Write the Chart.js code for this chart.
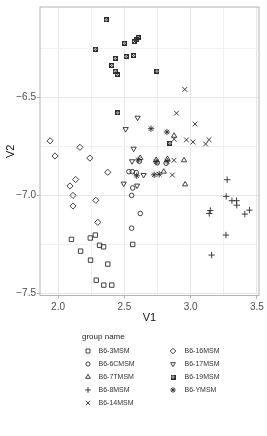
<!DOCTYPE html>
<html lang="en">
<head>
<meta charset="UTF-8">
<title>V1 vs V2</title>
<script src="https://cdn.jsdelivr.net/npm/chart.js"></script>
<style>
    body { margin: 0; background: #fff; }
    canvas { display: block; }
</style>
</head>
<body>
<canvas id="chart" width="267" height="436"></canvas>
<script>
// group names, in legend order
const groups = ["B6-3MSM", "B6-6CMSM", "B6-7TMSM", "B6-8MSM", "B6-14MSM",
                "B6-16MSM", "B6-17MSM", "B6-19MSM", "B6-YMSM"];

// V1 / V2 values per group
const x3MSM = [2.101, 2.243, 2.281, 2.313, 2.343, 2.170, 2.245, 2.375, 2.288, 2.345, 2.405, 2.563];
const y3MSM = [-7.224, -7.217, -7.202, -7.254, -7.262, -7.284, -7.330, -7.350, -7.432, -7.457, -7.457, -7.250];

const x6CMSM = [2.534, 2.560, 2.590, 2.563, 2.555, 2.620, 2.555, 2.613, 2.748, 2.815];
const y6CMSM = [-6.879, -6.879, -6.884, -6.962, -7.000, -7.092, -7.167, -6.826, -6.834, -6.836];

const x7TMSM = [2.875, 2.825, 2.950, 2.797, 2.958, 2.620, 2.740];
const y7TMSM = [-6.696, -6.814, -6.821, -6.879, -6.944, -6.809, -6.819];

const x8MSM = [3.275, 3.268, 3.311, 3.346, 3.348, 3.443, 3.408, 3.148, 3.140, 3.266, 3.158];
const y8MSM = [-6.920, -7.005, -7.027, -7.027, -7.050, -7.075, -7.095, -7.077, -7.092, -7.202, -7.304];

const x14MSM = [2.956, 2.893, 3.033, 2.875, 2.968, 3.017, 3.113, 3.138, 2.874, 2.862];
const y14MSM = [-6.460, -6.581, -6.636, -6.714, -6.717, -6.728, -6.738, -6.716, -6.821, -6.896];

const x16MSM = [1.940, 1.977, 2.165, 2.240, 2.375, 2.133, 2.090, 2.113, 2.113, 2.285, 2.300];
const y16MSM = [-6.722, -6.799, -6.755, -6.810, -6.882, -6.919, -6.952, -7.000, -7.054, -7.025, -7.137];

const x17MSM = [2.600, 2.510, 2.570, 2.558, 2.645, 2.495, 2.596];
const y17MSM = [-6.604, -6.662, -6.762, -6.826, -6.896, -6.940, -6.950];

const x19MSM = [2.363, 2.500, 2.575, 2.588, 2.603, 2.281, 2.431, 2.513, 2.570, 2.405, 2.431, 2.446, 2.746, 2.450, 2.843];
const y19MSM = [-6.105, -6.225, -6.215, -6.208, -6.195, -6.255, -6.302, -6.292, -6.287, -6.338, -6.367, -6.383, -6.367, -6.579, -6.734];

const xYMSM = [2.701, 2.821, 2.605, 2.740, 2.823, 2.593, 2.725, 2.763];
const yYMSM = [-6.660, -6.677, -6.819, -6.829, -6.826, -6.900, -6.895, -6.892];

// axis breaks
const xBreaks = [2.0, 2.5, 3.0, 3.5];
const xMinor = [2.25, 2.75, 3.25];
const yBreaks = [-7.5, -7.0, -6.5];
const yMinor = [-7.25, -6.75, -6.25];

const ink = "#2b2b2b";

// square with a cross inside (ggplot shape 7)
function crossedSquare() {
    const c = document.createElement("canvas");
    c.width = 5; c.height = 5;
    const g = c.getContext("2d");
    g.strokeStyle = ink;
    g.lineWidth = 1;
    g.strokeRect(0.5, 0.5, 4, 4);
    g.beginPath();
    g.moveTo(0.5, 0.5); g.lineTo(4.5, 4.5);
    g.moveTo(4.5, 0.5); g.lineTo(0.5, 4.5);
    g.stroke();
    return c;
}

const shapes = [
    { pointStyle: "rect", radius: 3.1 },
    { pointStyle: "circle", radius: 2.3 },
    { pointStyle: "triangle", radius: 3 },
    { pointStyle: "cross", radius: 3.2 },
    { pointStyle: "crossRot", radius: 3.4 },
    { pointStyle: "rectRot", radius: 3.1 },
    { pointStyle: "triangle", radius: 3, rotation: 180 },
    { pointStyle: crossedSquare(), radius: 3 },
    { pointStyle: "star", radius: 3.2 }
];

const xs = [x3MSM, x6CMSM, x7TMSM, x8MSM, x14MSM, x16MSM, x17MSM, x19MSM, xYMSM];
const ys = [y3MSM, y6CMSM, y7TMSM, y8MSM, y14MSM, y16MSM, y17MSM, y19MSM, yYMSM];

const datasets = groups.map((name, i) => ({
    label: name,
    data: xs[i].map((v, j) => ({ x: v, y: ys[i][j] })),
    pointStyle: shapes[i].pointStyle,
    pointRadius: shapes[i].radius,
    pointRotation: shapes[i].rotation || 0,
    pointBorderColor: ink,
    pointBackgroundColor: "rgba(0,0,0,0)",
    pointBorderWidth: 0.9,
    showLine: false
}));

function setTicks(major, minor) {
    return scale => {
        scale.ticks = major.concat(minor).sort((a, b) => a - b).map(v => ({ value: v }));
    };
}

const panelBorder = {
    id: "panelBorder",
    afterDraw(chart) {
        const { ctx, chartArea: a } = chart;
        ctx.save();
        ctx.strokeStyle = "#b3b3b3";
        ctx.lineWidth = 1;
        ctx.strokeRect(a.left, a.top, a.right - a.left, a.bottom - a.top);
        ctx.restore();
    }
};

// legend laid out in two columns, filled column by column
const groupLegend = {
    id: "groupLegend",
    afterDraw(chart) {
        const ctx = chart.ctx;
        ctx.save();
        ctx.fillStyle = "#222";
        ctx.font = "8px 'Liberation Sans', Arial, sans-serif";
        ctx.textBaseline = "middle";
        ctx.textAlign = "left";
        ctx.fillText("group name", 82, 337);
        const rows = [351, 364, 377, 390, 403];
        groups.forEach((name, i) => {
            const col = Math.floor(i / 5), row = i % 5;
            const sx = col ? 173 : 88, tx = col ? 184.5 : 98.5;
            ctx.strokeStyle = ink;
            ctx.fillStyle = "rgba(0,0,0,0)";
            ctx.lineWidth = 0.9;
            Chart.helpers.drawPoint(ctx, {
                pointStyle: shapes[i].pointStyle,
                radius: shapes[i].radius * 0.9,
                rotation: shapes[i].rotation || 0,
                borderWidth: 0.9
            }, sx, rows[row]);
            ctx.fillStyle = "#333";
            ctx.font = "7px 'Liberation Sans', Arial, sans-serif";
            ctx.fillText(name, tx, rows[row]);
        });
        ctx.restore();
    }
};

const tickFont = { family: "'Liberation Sans', Arial, sans-serif", size: 10 };
const titleFont = { family: "'Liberation Sans', Arial, sans-serif", size: 11 };

new Chart(document.getElementById("chart"), {
    type: "scatter",
    data: { datasets },
    plugins: [panelBorder, groupLegend],
    options: {
        responsive: false,
        animation: false,
        layout: { padding: { top: 1.5, right: 7, bottom: 110.5, left: 0 } },
        plugins: { legend: { display: false }, tooltip: { enabled: false } },
        scales: {
            x: {
                type: "linear",
                min: 1.864,
                max: 3.515,
                afterBuildTicks: setTicks(xBreaks, xMinor),
                afterFit: s => { s.height = 30; },
                ticks: {
                    autoSkip: false,
                    maxRotation: 0,
                    padding: 3,
                    color: "#4d4d4d",
                    font: tickFont,
                    callback: v => xBreaks.includes(v) ? v.toFixed(1) : ""
                },
                grid: {
                    color: c => xBreaks.includes(c.tick.value) ? "#e6e6e6" : "#f0f0f0",
                    tickColor: c => xBreaks.includes(c.tick.value) ? "#b3b3b3" : "rgba(0,0,0,0)",
                    tickLength: 3,
                    lineWidth: 1
                },
                border: { display: false },
                title: { display: true, text: "V1", color: "#111", font: titleFont, padding: { top: 0, bottom: 1 } }
            },
            y: {
                type: "linear",
                min: -7.51,
                max: -6.04,
                afterBuildTicks: setTicks(yBreaks, yMinor),
                afterFit: s => { s.width = 40; },
                ticks: {
                    autoSkip: false,
                    padding: 1,
                    color: "#4d4d4d",
                    font: tickFont,
                    callback: v => yBreaks.includes(v) ? "\u2212" + Math.abs(v).toFixed(1) : ""
                },
                grid: {
                    color: c => yBreaks.includes(c.tick.value) ? "#e6e6e6" : "#f0f0f0",
                    tickColor: c => yBreaks.includes(c.tick.value) ? "#b3b3b3" : "rgba(0,0,0,0)",
                    tickLength: 3,
                    lineWidth: 1
                },
                border: { display: false },
                title: { display: true, text: "V2", color: "#111", font: titleFont, padding: { top: 4, bottom: 0 } }
            }
        }
    }
});
</script>
</body>
</html>
